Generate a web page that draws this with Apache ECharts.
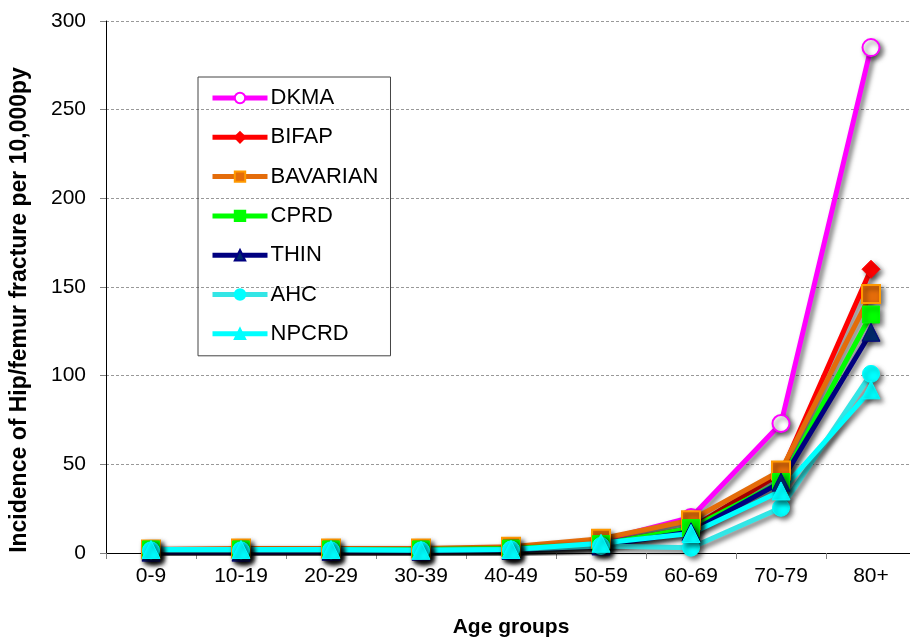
<!DOCTYPE html>
<html>
<head>
<meta charset="utf-8">
<script src="https://cdn.jsdelivr.net/npm/echarts@6/dist/echarts.min.js"></script>
<style>
html,body{margin:0;padding:0;background:#fff;}
#chart{width:910px;height:638px;}
</style>
</head>
<body>
<div id="chart"></div>
<script>
const categories = ['0-9','10-19','20-29','30-39','40-49','50-59','60-69','70-79','80+'];
const yTicks = [0, 50, 100, 150, 200, 250, 300];
const dkma     = [0.5, 0.3, 0.5, 0.5, 1.5, 7, 20, 73, 285];
const bifap    = [1, 1, 1, 1, 1.5, 5, 14, 45, 160];
const bavarian = [2, 2.5, 2.5, 2.5, 3.5, 8, 18.5, 46.5, 146];
const cprd     = [2, 2, 2, 2, 2.5, 5, 14, 40, 134.5];
const thin     = [0.5, 0.5, 1, 1, 1.5, 4, 12, 40, 124.5];
const ahc      = [1.5, 1.5, 1.5, 1.5, 2, 4, 3, 25.5, 101];
const npcrd    = [2, 2, 2, 1.5, 2, 5.5, 11, 35, 92];
const yTitle = 'Incidence of Hip/femur fracture per 10,000py';
const xTitle = 'Age groups';

const FONT = 'Liberation Sans, Arial, sans-serif';
const shadow = {shadowColor:'rgba(0,0,0,0.55)', shadowBlur:5, shadowOffsetX:3, shadowOffsetY:3};
function mk(name, data, color, symbol, size, itemStyle){
  return {
    name, type:'line', data, symbol, symbolSize:size,
    lineStyle:Object.assign({color, width:5}, shadow),
    itemStyle:Object.assign({color, borderColor:color, borderWidth:1}, shadow, itemStyle||{}),
    emphasis:{disabled:true}, animation:false
  };
}
const chart = echarts.init(document.getElementById('chart'), null, {renderer:'canvas'});
chart.setOption({
  backgroundColor:'#fff',
  animation:false,
  grid:{left:106, top:21, width:810, height:532, containLabel:false, outerBoundsMode:'none'},
  legend:{
    orient:'vertical', left:198, top:77,
    padding:[10,12,11,12],
    itemWidth:55, itemHeight:13, itemGap:17.3,
    borderColor:'#444', borderWidth:1,
    lineStyle:{width:5},
    textStyle:{fontFamily:FONT, fontSize:22, lineHeight:22, color:'#000', padding:[0,0,0,-2]},
    data:['DKMA','BIFAP','BAVARIAN','CPRD','THIN','AHC','NPCRD']
  },
  graphic:[{
    type:'text', x:20, y:310, rotation:Math.PI/2,
    style:{text:yTitle, fontFamily:FONT, fontSize:23, fontWeight:'bold', fill:'#000', align:'center', verticalAlign:'middle'}
  }],
  xAxis:{
    type:'category', data:categories, boundaryGap:true,
    axisLine:{lineStyle:{color:'#000', width:1}},
    axisTick:{show:true, interval:0, length:6, lineStyle:{color:'#808080'}},
    axisLabel:{fontFamily:FONT, fontSize:21, color:'#000', margin:13},
    name:xTitle, nameLocation:'middle', nameGap:64,
    nameTextStyle:{fontFamily:FONT, fontSize:21, fontWeight:'bold', color:'#000'}
  },
  yAxis:{
    type:'value', min:yTicks[0], max:yTicks[yTicks.length-1], interval:50,
    axisLine:{show:true, lineStyle:{color:'#000', width:1}},
    axisTick:{show:true, length:6, lineStyle:{color:'#808080'}},
    axisLabel:{fontFamily:FONT, fontSize:21, color:'#000', margin:20},
    splitLine:{show:true, lineStyle:{color:'#999', type:[3,2], width:1}}
  },
  series:[
    mk('DKMA', dkma, '#FF00FF', 'emptyCircle', 17, {color:'#FF00FF', borderWidth:2}),
    mk('BIFAP', bifap, '#FF0000', 'diamond', 18),
    mk('BAVARIAN', bavarian, '#E46C0A', 'rect', 18, {color:'#E46C0A', borderColor:'#FF9900', borderWidth:2}),
    mk('CPRD', cprd, '#00FF00', 'rect', 17),
    mk('THIN', thin, '#000080', 'triangle', 18, {color:'#002A6E', borderColor:'#000080'}),
    mk('AHC', ahc, '#33E6E6', 'circle', 17, {color:'#00FFFF', borderColor:'#00FFFF'}),
    mk('NPCRD', npcrd, '#00FFFF', 'triangle', 18)
  ]
});
</script>
</body>
</html>
